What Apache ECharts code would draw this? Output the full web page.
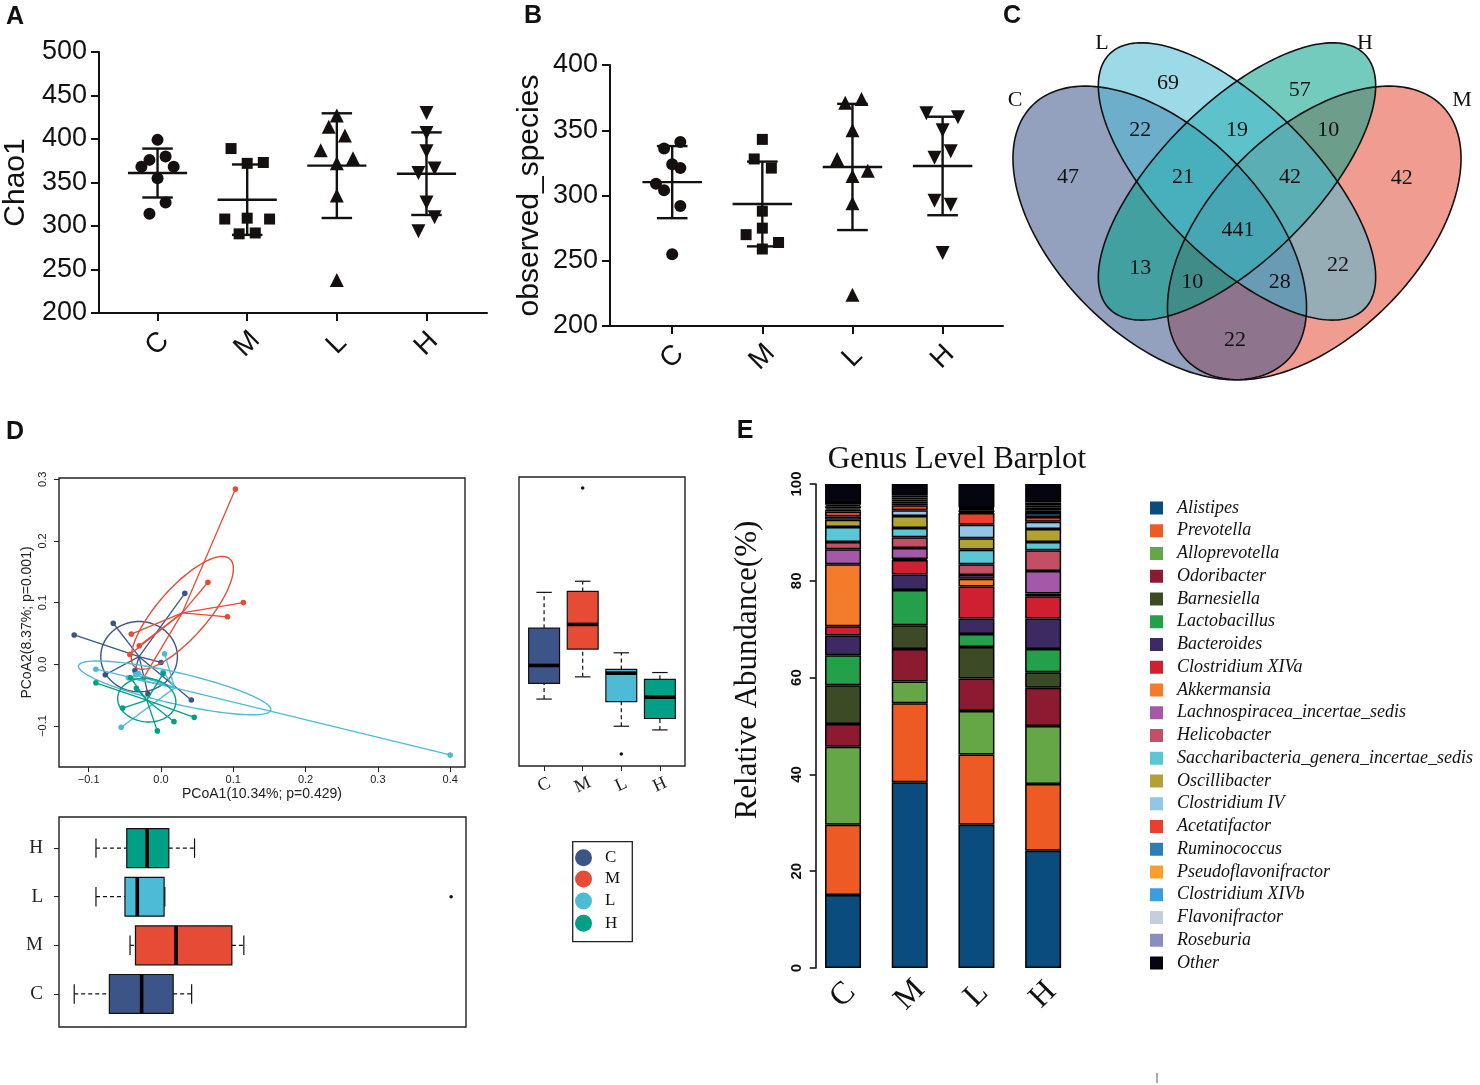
<!DOCTYPE html>
<html><head><meta charset="utf-8">
<script src="https://cdn.jsdelivr.net/npm/echarts/dist/echarts.min.js"></script>
<style>html,body{margin:0;padding:0;background:#fff}#c{width:1480px;height:1085px}</style>
</head><body><div id="c"></div>
<script>
const SANS = 'Liberation Sans, Arial, sans-serif';
const SERIF = 'Liberation Serif, Times New Roman, serif';
const groups = ['C','M','L','H'];
const npg = ['#3C5488','#E64B35','#4DBBD5','#00A087'];

// ---------- Panel A: Chao1 ----------
const chao1_C = [399,376,380,368,368,355,327,314];
const chao1_M = [389,372,373,308,309,308,291,292];
const chao1_L = [427,414,404,387,378,372,335,238];
const chao1_H = [430,407,386,361,366,327,310,294];
const chao1Jit_C = [0,-0.09,0.09,-0.18,0.18,0,0.09,-0.09];
const chao1Jit_M = [-0.18,0,0.18,-0.25,0,0.25,-0.09,0.09];
const chao1Jit_L = [0,-0.09,0.09,-0.18,0.18,0,0,0];
const chao1Jit_H = [0,0,0,-0.09,0.09,0,0.09,-0.09];

// ---------- Panel B: observed_species ----------
const obs_C = [341,336,324,321,309,304,292,255];
const obs_M = [343,328,321,288,275,270,264,259];
const obs_L = [374,371,350,328,319,315,294,224];
const obs_H = [363,360,350,329,334,296,293,256];
const obsJit_C = [0.09,-0.09,0,0.09,-0.18,-0.09,0.09,0];
const obsJit_M = [0,-0.09,0.1,0,0,-0.18,0.18,0];
const obsJit_L = [0.1,-0.08,0,-0.17,0.17,0,0,0];
const obsJit_H = [-0.18,0.17,0,-0.09,0.09,-0.09,0.09,0];

// ---------- Panel C: Venn ----------
const vennSets = ['C','L','H','M'];
const vennRegionCounts = [69,57,22,19,10,47,21,42,42,441,13,22,10,28,22];

// ---------- Panel D: PCoA ----------
const pcoaX_C = [-0.120,-0.066,0.033,0.000,-0.036,-0.077,-0.018,0.042];
const pcoaY_C = [0.0475,0.0665,0.115,0.003,-0.010,-0.017,-0.048,-0.058];
const pcoaX_M = [0.103,0.065,0.114,0.092,-0.041,-0.030,-0.043,-0.024];
const pcoaY_M = [0.284,0.133,0.100,0.077,0.049,0.030,0.016,-0.022];
const pcoaX_L = [0.400,-0.055,0.005,-0.090,-0.045,-0.035,-0.031,0.003];
const pcoaY_L = [-0.147,-0.102,0.017,-0.008,-0.022,-0.017,-0.015,-0.012];
const pcoaX_H = [-0.090,-0.042,-0.034,0.003,-0.053,0.018,0.046,-0.005];
const pcoaY_H = [-0.030,-0.022,-0.039,-0.015,-0.071,-0.093,-0.086,-0.108];
const pcoaXTicks = [-0.1,0,0.1,0.2,0.3,0.4];
const pcoaYTicks = [-0.1,0,0.1,0.2,0.3];

// ---------- Panel E: genus relative abundance (C, M, L, H) ----------
const genera = ['Alistipes','Prevotella','Alloprevotella','Odoribacter','Barnesiella','Lactobacillus','Bacteroides','Clostridium XIVa','Akkermansia','Lachnospiracea_incertae_sedis','Helicobacter','Saccharibacteria_genera_incertae_sedis','Oscillibacter','Clostridium IV','Acetatifactor','Ruminococcus','Pseudoflavonifractor','Clostridium XIVb','Flavonifractor','Roseburia','Other'];
const ab_Alistipes = [15.1,38.4,29.6,24.2];
const ab_Prevotella = [14.5,16.3,14.5,13.8];
const ab_Alloprevotella = [16.1,4.5,9.0,12.0];
const ab_Odoribacter = [4.7,6.7,6.7,7.9];
const ab_Barnesiella = [8.0,4.9,6.5,3.2];
const ab_Lactobacillus = [6.2,7.3,2.7,4.8];
const ab_Bacteroides = [4.1,3.2,3.2,6.3];
const ab_ClostridiumXIVa = [1.9,3.0,6.6,4.6];
const ab_Akkermansia = [12.8,0.2,1.6,0.6];
const ab_Lachnospiracea = [3.1,2.3,0.8,4.6];
const ab_Helicobacter = [1.5,2.2,2.2,4.3];
const ab_Saccharibacteria = [3.1,1.9,3.0,1.7];
const ab_Oscillibacter = [1.5,2.5,2.4,2.7];
const ab_ClostridiumIV = [0.7,1.2,2.8,1.5];
const ab_Acetatifactor = [1.0,1.0,2.4,1.0];
const ab_Ruminococcus = [0.4,0.4,0.2,0.8];
const ab_Pseudoflavonifractor = [0.3,0.4,0.4,0.6];
const ab_ClostridiumXIVb = [0.4,0.4,0.2,0.6];
const ab_Flavonifractor = [0.3,0.4,0.2,0.4];
const ab_Roseburia = [0.4,0.5,0.2,0.6];
const ab_Other = [3.9,2.3,4.8,3.8];
const abundance = [ab_Alistipes,ab_Prevotella,ab_Alloprevotella,ab_Odoribacter,ab_Barnesiella,ab_Lactobacillus,ab_Bacteroides,ab_ClostridiumXIVa,ab_Akkermansia,ab_Lachnospiracea,ab_Helicobacter,ab_Saccharibacteria,ab_Oscillibacter,ab_ClostridiumIV,ab_Acetatifactor,ab_Ruminococcus,ab_Pseudoflavonifractor,ab_ClostridiumXIVb,ab_Flavonifractor,ab_Roseburia,ab_Other];
const genusColors = ['#0B4C7F','#EE5A24','#65A646','#8C1A31','#3D4A26','#25A04A','#3E2A63','#CE2030','#F47B2B','#A458A8','#C24F66','#59C7D6','#B3A233','#93C5E6','#E8402D','#2E7DB5','#F89F2A','#3B9DDB','#C3CFDD','#8A8DBF','#050510'];

// ---------- layout / style helpers ----------
const markSymbols = ['circle','rect','triangle','triangle'];
const markRot = [0,0,0,180];
const markSize = [12,11,14,14];

function meanSd(a){const m=a.reduce((s,v)=>s+v,0)/a.length;const sd=Math.sqrt(a.reduce((s,v)=>s+(v-m)*(v-m),0)/(a.length-1));return [m,sd];}
function fivenum(a){const s=[...a].sort((x,y)=>x-y);const n=s.length;const n4=Math.floor((n+3)/2)/2;const d=[1,n4,(n+1)/2,n+1-n4,n];return d.map(k=>0.5*(s[Math.floor(k)-1]+s[Math.ceil(k)-1]));}
function boxStats(a){const f=fivenum(a);const iqr=f[3]-f[1];const lo=Math.min(...a.filter(v=>v>=f[1]-1.5*iqr));const hi=Math.max(...a.filter(v=>v<=f[3]+1.5*iqr));return {lo,q1:f[1],med:f[2],q3:f[3],hi,out:a.filter(v=>v<lo||v>hi)};}
function seg(api,x1,y1,x2,y2,style){const a=api.coord([x1,y1]),b=api.coord([x2,y2]);return {type:'line',shape:{x1:a[0],y1:a[1],x2:b[0],y2:b[1]},style};}

function dotPanel(ai, sets, jits){
  const out=[];
  sets.forEach((vals,gi)=>{
    out.push({type:'scatter',xAxisIndex:ai,yAxisIndex:ai,symbol:markSymbols[gi],symbolRotate:markRot[gi],symbolSize:markSize[gi],
      itemStyle:{color:'#150f0f',opacity:1},silent:true,z:3,data:vals.map((v,k)=>[gi+jits[gi][k],v])});
  });
  out.push({type:'custom',xAxisIndex:ai,yAxisIndex:ai,z:4,clip:false,silent:true,
    data:sets.map((vals,gi)=>{const ms=meanSd(vals);return [gi,ms[0],ms[1]];}),
    renderItem:(p,api)=>{const g=api.value(0),m=api.value(1),s=api.value(2);const st={stroke:'#111',lineWidth:2.4};
      return {type:'group',children:[seg(api,g-0.33,m,g+0.33,m,st),seg(api,g,m-s,g,m+s,st),seg(api,g-0.17,m+s,g+0.17,m+s,st),seg(api,g-0.17,m-s,g+0.17,m-s,st)]};}});
  return out;
}

const series = [];
series.push(...dotPanel(0,[chao1_C,chao1_M,chao1_L,chao1_H],[chao1Jit_C,chao1Jit_M,chao1Jit_L,chao1Jit_H]));
series.push(...dotPanel(1,[obs_C,obs_M,obs_L,obs_H],[obsJit_C,obsJit_M,obsJit_L,obsJit_H]));

// PCoA spiders + ellipses
const pcoaSets = [[pcoaX_C,pcoaY_C],[pcoaX_M,pcoaY_M],[pcoaX_L,pcoaY_L],[pcoaX_H,pcoaY_H]];
const ellU = [[0.053,0],[0.0657,0.0875],[0.133,-0.035],[0.040,-0.006]];
const ellV = [[0,0.057],[0.0259,-0.0267],[0,0.026],[0.004,0.035]];
pcoaSets.forEach((xy,gi)=>{
  const xs=xy[0], ys=xy[1];
  const cx=xs.reduce((s,v)=>s+v,0)/xs.length, cy=ys.reduce((s,v)=>s+v,0)/ys.length;
  const col=npg[gi];
  series.push({type:'custom',xAxisIndex:2,yAxisIndex:2,clip:true,silent:true,z:3,data:xs.map((x,k)=>[x,ys[k]]),
    renderItem:(p,api)=>{const pt=api.coord([api.value(0),api.value(1)]);const c=api.coord([cx,cy]);
      return {type:'group',children:[{type:'line',shape:{x1:c[0],y1:c[1],x2:pt[0],y2:pt[1]},style:{stroke:col,lineWidth:1.3}},
        {type:'circle',shape:{cx:pt[0],cy:pt[1],r:2.8},style:{fill:col}}]};}});
  const u=ellU[gi], v=ellV[gi];
  series.push({type:'custom',xAxisIndex:2,yAxisIndex:2,clip:true,silent:true,z:3,data:[[cx,cy]],
    renderItem:(p,api)=>{const X=api.value(0),Y=api.value(1);const pts=[];
      for(let k=0;k<=120;k++){const t=k/120*2*Math.PI;pts.push(api.coord([X+u[0]*Math.cos(t)+v[0]*Math.sin(t),Y+u[1]*Math.cos(t)+v[1]*Math.sin(t)]));}
      return {type:'polyline',shape:{points:pts},style:{stroke:col,lineWidth:1.4,fill:null}};}});
});

// boxplots
function boxRender(horizontal){
  return (p,api)=>{
    const i=api.value(0),lo=api.value(1),q1=api.value(2),md=api.value(3),q3=api.value(4),hi=api.value(5);
    const P=(c,v)=>horizontal?api.coord([v,c]):api.coord([c,v]);
    const L=(a,b,st)=>({type:'line',shape:{x1:a[0],y1:a[1],x2:b[0],y2:b[1]},style:st});
    const dash={stroke:'#111',lineWidth:1.2,lineDash:[4,3]}, solid={stroke:'#111',lineWidth:1.2};
    const hw=0.4,cw=0.2;const a=P(i-hw,q1),b=P(i+hw,q3);
    return {type:'group',children:[
      L(P(i,q3),P(i,hi),dash),L(P(i,lo),P(i,q1),dash),
      L(P(i-cw,hi),P(i+cw,hi),solid),L(P(i-cw,lo),P(i+cw,lo),solid),
      {type:'rect',shape:{x:Math.min(a[0],b[0]),y:Math.min(a[1],b[1]),width:Math.abs(b[0]-a[0]),height:Math.abs(b[1]-a[1])},style:{fill:npg[i],stroke:'#111',lineWidth:1.2}},
      L(P(i-hw,md),P(i+hw,md),{stroke:'#000',lineWidth:3.6})]};
  };
}
const statsY = pcoaSets.map(xy=>boxStats(xy[1]));
const statsX = pcoaSets.map(xy=>boxStats(xy[0]));
series.push({type:'custom',xAxisIndex:3,yAxisIndex:3,clip:false,silent:true,data:statsY.map((s,i)=>[i,s.lo,s.q1,s.med,s.q3,s.hi]),renderItem:boxRender(false)});
series.push({type:'scatter',xAxisIndex:3,yAxisIndex:3,silent:true,symbolSize:3.5,itemStyle:{color:'#111',opacity:1},data:statsY.flatMap((s,i)=>s.out.map(v=>[i,v]))});
series.push({type:'custom',xAxisIndex:4,yAxisIndex:4,clip:false,silent:true,data:statsX.map((s,i)=>[i,s.lo,s.q1,s.med,s.q3,s.hi]),renderItem:boxRender(true)});
series.push({type:'scatter',xAxisIndex:4,yAxisIndex:4,silent:true,symbolSize:3.5,itemStyle:{color:'#111',opacity:1},data:statsX.flatMap((s,i)=>s.out.map(v=>[v,i]))});

// stacked bars
genera.forEach((g,j)=>{
  series.push({type:'bar',name:g,stack:'genus',xAxisIndex:5,yAxisIndex:5,barWidth:36,silent:true,data:abundance[j],
    itemStyle:{color:genusColors[j],borderColor:'#000',borderWidth:1.5}});
});

// ---------- axes ----------
const catFmt = v=>groups[Math.round(v)];
const minus = v=>(v<-1e-9?'\u2212':'')+Math.abs(v).toFixed(1);
function dotXAxis(gi,min,max){return {gridIndex:gi,type:'value',min,max,splitLine:{show:false},
  axisLine:{onZero:false,lineStyle:{color:'#111',width:2}},
  axisTick:{customValues:[0,1,2,3],length:8,lineStyle:{color:'#111',width:2}},
  axisLabel:{customValues:[0,1,2,3],formatter:catFmt,rotate:45,align:'center',verticalAlign:'middle',margin:31,fontSize:28,fontFamily:SANS,color:'#111'}};}
function dotYAxis(gi,min,max,name,gap){return {gridIndex:gi,type:'value',min,max,interval:50,splitLine:{show:false},
  axisLine:{show:true,onZero:false,lineStyle:{color:'#111',width:2}},
  axisTick:{show:true,length:8,lineStyle:{color:'#111',width:2}},
  axisLabel:{fontSize:27,fontFamily:SANS,color:'#111',margin:12},
  name,nameLocation:'middle',nameGap:gap,nameTextStyle:{fontSize:30,fontFamily:SANS,color:'#111'}};}

const xAxis = [
  dotXAxis(0,-0.653,3.675),
  dotXAxis(1,-0.69,3.67),
  {gridIndex:2,type:'value',min:-0.141,max:0.4205,splitLine:{show:false},axisLine:{show:false,onZero:false},
   axisTick:{show:true,customValues:pcoaXTicks,length:5,lineStyle:{color:'#222'}},
   axisLabel:{customValues:pcoaXTicks,formatter:minus,fontSize:11,fontFamily:SANS,color:'#222',margin:7},
   name:'PCoA1(10.34%; p=0.429)',nameLocation:'middle',nameGap:20,nameTextStyle:{fontSize:14,fontFamily:SANS,color:'#222'}},
  {gridIndex:3,type:'value',min:-0.65,max:3.65,splitLine:{show:false},axisLine:{show:false,onZero:false},
   axisTick:{show:true,customValues:[0,1,2,3],length:5,lineStyle:{color:'#222'}},
   axisLabel:{customValues:[0,1,2,3],formatter:catFmt,rotate:25,align:'center',verticalAlign:'middle',margin:19,fontSize:18,fontFamily:SERIF,color:'#222'}},
  {gridIndex:4,type:'value',min:-0.141,max:0.4205,show:false,axisLine:{onZero:false}},
  {gridIndex:5,type:'category',data:groups,axisLine:{show:false,onZero:false},axisTick:{show:false},
   axisLabel:{rotate:45,align:'center',verticalAlign:'middle',margin:27,fontSize:32,fontFamily:SERIF,color:'#111'}}
];
const yAxis = [
  dotYAxis(0,200,500,'Chao1',68),
  dotYAxis(1,200,400,'observed_species',65),
  {gridIndex:2,type:'value',min:-0.1665,max:0.302,splitLine:{show:false},axisLine:{show:false,onZero:false},
   axisTick:{show:true,customValues:pcoaYTicks,length:5,lineStyle:{color:'#222'}},
   axisLabel:{customValues:pcoaYTicks,formatter:minus,rotate:90,align:'center',verticalAlign:'middle',fontSize:11,fontFamily:SANS,color:'#222',margin:16},
   name:'PCoA2(8.37%; p=0.001)',nameLocation:'middle',nameGap:25,nameTextStyle:{fontSize:14,fontFamily:SANS,color:'#222'}},
  {gridIndex:3,type:'value',min:-0.1665,max:0.302,show:false,axisLine:{onZero:false}},
  {gridIndex:4,type:'value',min:-0.68,max:3.64,splitLine:{show:false},axisLine:{show:false,onZero:false},
   axisTick:{show:true,customValues:[0,1,2,3],length:5,lineStyle:{color:'#222'}},
   axisLabel:{customValues:[0,1,2,3],formatter:catFmt,fontSize:19,fontFamily:SERIF,color:'#222',margin:16}},
  {gridIndex:5,type:'value',min:0,max:100,interval:20,offset:-6,splitLine:{show:false},
   axisLine:{show:true,onZero:false,lineStyle:{color:'#111',width:1.6}},axisTick:{show:true,length:6,lineStyle:{color:'#111',width:1.6}},
   axisLabel:{rotate:90,align:'center',verticalAlign:'middle',fontSize:15,fontWeight:'bold',fontFamily:SANS,color:'#111',margin:19}}
];

const boxed = {show:true,borderColor:'#222',borderWidth:1.4,backgroundColor:'transparent'};
const grid = [
  {left:96,top:52,width:391,height:261},
  {left:610,top:65,width:393,height:261},
  Object.assign({left:59,top:478,width:406,height:289},boxed),
  Object.assign({left:519,top:477,width:166,height:289},boxed),
  Object.assign({left:59,top:817,width:407,height:210},boxed),
  {left:809.7,top:484,width:266.8,height:484}
];

// ---------- graphics: Venn, legends, labels ----------
const VX0=1237, VY0=475, VS=515;
const vennGeom = {C:[0.35,0.47,0.35,0.2,135],L:[0.5,0.57,0.35,0.15,135],H:[0.5,0.57,0.35,0.15,45],M:[0.65,0.47,0.35,0.2,45]};
const vennColor = {C:'#3C5488',L:'#4DBBD5',H:'#00A087',M:'#E64B35'};
const vennDrawOrder = ['M','C','H','L'];
const vennLabelPos = [[0.366,0.761],[0.622,0.748],[0.312,0.670],[0.5,0.670],[0.677,0.670],[0.172,0.579],[0.395,0.579],[0.603,0.579],[0.820,0.577],[0.502,0.476],[0.312,0.402],[0.696,0.408],[0.413,0.375],[0.583,0.375],[0.496,0.262]];
const vennSetLabelPos = {C:[1015,100],L:[1102,43],H:[1365,43],M:[1462,100]};
function vennPts(g){const [cx,cy,a,b,deg]=g;const th=deg*Math.PI/180;const pts=[];
  for(let i=0;i<200;i++){const t=i/200*2*Math.PI;const x=cx+a*Math.cos(t)*Math.cos(th)-b*Math.sin(t)*Math.sin(th);const y=cy+a*Math.cos(t)*Math.sin(th)+b*Math.sin(t)*Math.cos(th);pts.push([VX0+(x-0.5)*VS,VY0-y*VS]);}
  return pts;}
function rgba(hex,a){const n=parseInt(hex.slice(1),16);return 'rgba('+(n>>16)+','+((n>>8)&255)+','+(n&255)+','+a+')';}
function txt(x,y,text,font,opt){return Object.assign({type:'text',x,y,silent:true,style:Object.assign({text,font,fill:'#111',textAlign:'center',textVerticalAlign:'middle',align:'center',verticalAlign:'middle'},opt&&opt.style||{})},opt&&opt.el||{});}

const graphic = [];
vennDrawOrder.forEach(k=>graphic.push({type:'polygon',silent:true,shape:{points:vennPts(vennGeom[k])},style:{fill:rgba(vennColor[k],0.55),stroke:'none'}}));
vennDrawOrder.forEach(k=>graphic.push({type:'polygon',silent:true,shape:{points:vennPts(vennGeom[k])},style:{fill:'none',stroke:'#111',lineWidth:1.6}}));
vennRegionCounts.forEach((n,i)=>{const p=vennLabelPos[i];graphic.push(txt(VX0+(p[0]-0.5)*VS,VY0-p[1]*VS,String(n),'22px '+SERIF));});
vennSets.forEach(k=>{const p=vennSetLabelPos[k];graphic.push(txt(p[0],p[1],k,'22px '+SERIF));});

// panel letters
[['A',15,17],['B',533,16],['C',1012,16],['D',15,432],['E',745,431]].forEach(l=>graphic.push(txt(l[1],l[2],l[0],'bold 25px '+SANS)));

// E title and y name
graphic.push(txt(957,460,'Genus Level Barplot','31px '+SERIF));
graphic.push(txt(748,670,'Relative Abundance(%)','31px '+SERIF,{el:{rotation:Math.PI/2}}));

// D legend
graphic.push({type:'rect',silent:true,shape:{x:572.7,y:841.7,width:59.6,height:100},style:{fill:'#fff',stroke:'#222',lineWidth:1.3}});
const dLegY=[857.7,879,901,923.3];
groups.forEach((g,i)=>{
  graphic.push({type:'circle',silent:true,shape:{cx:583.5,cy:dLegY[i],r:8.5},style:{fill:npg[i]}});
  graphic.push(txt(605,dLegY[i],g,'17px '+SERIF,{style:{textAlign:'left',align:'left'}}));
});
graphic.push({type:'line',silent:true,shape:{x1:1157,y1:1073,x2:1157,y2:1083},style:{stroke:'#555',lineWidth:1}});

const option = {
  backgroundColor:'#fff',animation:false,
  grid,xAxis,yAxis,series,graphic,
  legend:{data:genera,orient:'vertical',left:1145,top:494,itemWidth:13,itemHeight:13,itemGap:4.75,icon:'rect',selectedMode:false,
    itemStyle:{borderWidth:0},
    textStyle:{fontFamily:SERIF,fontStyle:'italic',fontSize:18,lineHeight:18,color:'#111',padding:[0,0,0,9]}}
};
const chart = echarts.init(document.getElementById('c'),null,{renderer:'canvas',width:1480,height:1085});
chart.setOption(option);
</script></body></html>
